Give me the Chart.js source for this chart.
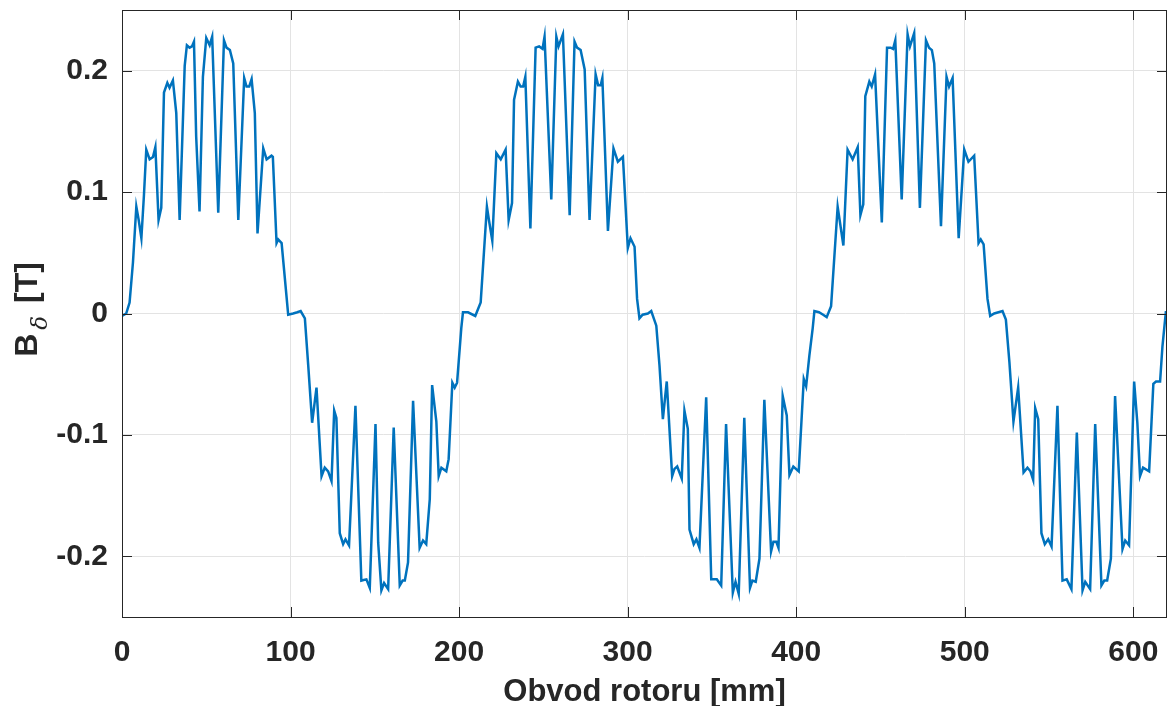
<!DOCTYPE html>
<html>
<head>
<meta charset="utf-8">
<title>Obvod rotoru</title>
<script src="https://cdn.jsdelivr.net/npm/chart.js@4.4.1/dist/chart.umd.min.js"></script>
<style>
  html, body { margin: 0; padding: 0; background: #fff; }
  #wrap { width: 1168px; height: 706px; }
</style>
</head>
<body>
<div id="wrap"><canvas id="fluxChart" width="1168" height="706"></canvas></div>
<script>
// rotor circumference [mm]
const position = [
  0, 2.5, 4.5, 6.5, 8.5, 9.9, 11.5, 13, 14.4, 16.4, 18.4, 19.8, 21.7, 23.3, 24.9, 26.9, 28.2, 30.2, 32.2, 34.2,
  37.2, 38.5, 40.1, 41.5, 42.7, 44, 46, 48, 50, 52, 53.5, 57.1, 60.5, 62, 64, 66, 69, 72.5, 73.9, 75.5,
  76.9, 78.8, 80.4, 83.8, 85.8, 88.7, 89.5, 91.7, 92.7, 94.7, 98.6, 101.5, 104, 106, 108.5, 110.5, 112.8, 115.4, 118.4, 120.3,
  122.3, 124.3, 125.9, 127.2, 129.2, 131.2, 132.6, 134.7, 138.5, 142, 145, 147, 150.4, 152, 153.9, 155.5, 157.9, 161.2, 164.8, 166.5,
  167.8, 169.7, 172.7, 176.6, 178.6, 180.5, 182.6, 184, 186.5, 187.9, 189.5, 192.4, 193.8, 196, 197.4, 198.8, 201.3, 202.3, 205.3, 209.6,
  212.8, 216.5, 217.7, 219.7, 222.1, 224.7, 227.6, 229.4, 231.4, 232.6, 234.9, 236.5, 238, 239.3, 242.3, 245.4, 247.5, 249.5, 250.7, 254.7,
  257.7, 259, 261.6, 265.6, 268.5, 270, 272.1, 274.5, 277.4, 281, 282.5, 284, 285, 288.3, 291.6, 294.2, 297.2, 300.1, 301.7, 304.1,
  305.6, 307, 308.9, 312, 314, 317, 318.9, 320.9, 323.2, 326.4, 327.8, 329.4, 332.1, 333.7, 335.7, 336.7, 339.2, 340.8, 342.6, 346.6,
  349.6, 352.9, 355.5, 358.4, 362.4, 364, 365.9, 369.2, 372.6, 374, 376, 378.2, 381.1, 385.1, 386.5, 388.2, 389.5, 392, 394.4, 396,
  398.3, 401.5, 404.5, 405.9, 407.8, 409.8, 410.8, 413.5, 416, 418.1, 420.7, 424.6, 428, 430.5, 433.5, 436.5, 438.1, 439.8, 441, 443.4,
  444.8, 446.8, 450.8, 453.9, 456, 457.5, 458.8, 462.6, 466.1, 467.5, 470, 473.4, 477, 478.8, 480.5, 481.9, 485.9, 489.2, 490.7, 492.8,
  496.4, 499.7, 502.2, 505.6, 508.2, 509.5, 511.2, 513.5, 515.1, 517.5, 520, 522.4, 524.4, 526.5, 528.9, 531.7, 534.9, 537.2, 539, 540.6,
  541.8, 543.6, 545.5, 547.5, 549.5, 551.5, 555, 558, 560.5, 563.3, 566.5, 569.9, 571.5, 574.4, 577.4, 581.1, 582.8, 584.5, 586.7, 589.2,
  593.6, 595.2, 597.5, 600.5, 602.4, 604, 605.8, 609.4, 611.9, 613.5, 615.9, 617.3, 619.3, 620
];

// air-gap flux density B_delta [T]
const fluxDensity = [
  -0.002, 0, 0.009, 0.042, 0.088, 0.077, 0.062, 0.097, 0.135, 0.127, 0.129, 0.137, 0.077, 0.087, 0.182, 0.19, 0.186, 0.192, 0.165, 0.077,
  0.204, 0.221, 0.219, 0.22, 0.224, 0.146, 0.084, 0.195, 0.227, 0.221, 0.228, 0.083, 0.225, 0.219, 0.217, 0.206, 0.077, 0.194, 0.187, 0.187,
  0.193, 0.165, 0.066, 0.136, 0.127, 0.13, 0.129, 0.058, 0.061, 0.058, -0.001, 0, 0.001, 0.002, -0.004, -0.043, -0.09, -0.061, -0.134, -0.127,
  -0.13, -0.138, -0.08, -0.086, -0.181, -0.19, -0.186, -0.191, -0.076, -0.22, -0.219, -0.226, -0.091, -0.189, -0.228, -0.222, -0.227, -0.094, -0.224, -0.22,
  -0.22, -0.205, -0.072, -0.193, -0.187, -0.19, -0.153, -0.059, -0.089, -0.134, -0.127, -0.13, -0.12, -0.057, -0.061, -0.057, -0.012, 0.001, 0.001, -0.002,
  0.009, 0.088, 0.077, 0.06, 0.132, 0.127, 0.135, 0.077, 0.091, 0.176, 0.191, 0.187, 0.187, 0.195, 0.07, 0.219, 0.22, 0.218, 0.228, 0.094,
  0.228, 0.22, 0.23, 0.081, 0.224, 0.219, 0.217, 0.201, 0.077, 0.197, 0.188, 0.188, 0.194, 0.068, 0.136, 0.125, 0.129, 0.054, 0.062, 0.055,
  0.012, -0.004, -0.001, 0, 0.002, -0.01, -0.043, -0.087, -0.056, -0.134, -0.128, -0.126, -0.136, -0.08, -0.095, -0.178, -0.19, -0.186, -0.193, -0.069,
  -0.219, -0.219, -0.224, -0.091, -0.23, -0.221, -0.231, -0.086, -0.226, -0.22, -0.221, -0.202, -0.071, -0.196, -0.188, -0.188, -0.193, -0.068, -0.084, -0.133,
  -0.126, -0.13, -0.054, -0.06, -0.035, -0.012, 0.002, 0.001, -0.001, -0.003, 0.006, 0.088, 0.056, 0.135, 0.127, 0.137, 0.081, 0.09, 0.179, 0.191,
  0.187, 0.197, 0.075, 0.219, 0.219, 0.218, 0.225, 0.094, 0.23, 0.22, 0.231, 0.087, 0.225, 0.219, 0.217, 0.206, 0.072, 0.195, 0.187, 0.194,
  0.062, 0.135, 0.125, 0.13, 0.058, 0.061, 0.057, 0.012, -0.002, 0, 0.001, 0.002, -0.005, -0.04, -0.089, -0.061, -0.131, -0.127, -0.13, -0.137,
  -0.078, -0.087, -0.181, -0.19, -0.186, -0.192, -0.076, -0.22, -0.219, -0.227, -0.098, -0.228, -0.221, -0.227, -0.091, -0.224, -0.22, -0.22, -0.202, -0.068,
  -0.194, -0.187, -0.191, -0.056, -0.09, -0.134, -0.127, -0.13, -0.058, -0.056, -0.056, -0.027, 0.001, 0.001
];

const xTicks = [0, 100, 200, 300, 400, 500, 600];
const yTicks = [-0.2, -0.1, 0, 0.1, 0.2];
const xLabel = 'Obvod rotoru [mm]';

const axisColor = '#262626';
const fontFamily = 'Liberation Sans, Arial, sans-serif';
const tickFont = { family: fontFamily, size: 30, weight: 'bold' };

// box round the plot, inward ticks, and the y title with a subscript
const matlabAxes = {
  id: 'matlabAxes',
  afterDraw(chart) {
    const { ctx, chartArea: a, scales } = chart;
    const len = 10;
    ctx.save();
    ctx.strokeStyle = axisColor;
    ctx.lineWidth = 1;
    ctx.beginPath();
    xTicks.forEach(v => {
      const px = Math.round(scales.x.getPixelForValue(v)) + 0.5;
      ctx.moveTo(px, a.bottom); ctx.lineTo(px, a.bottom - len);
      ctx.moveTo(px, a.top); ctx.lineTo(px, a.top + len);
    });
    yTicks.forEach(v => {
      const py = Math.round(scales.y.getPixelForValue(v)) + 0.5;
      ctx.moveTo(a.left, py); ctx.lineTo(a.left + len, py);
      ctx.moveTo(a.right, py); ctx.lineTo(a.right - len, py);
    });
    ctx.stroke();
    ctx.strokeRect(Math.round(a.left) + 0.5, Math.round(a.top) + 0.5,
                   Math.round(a.right - a.left) - 1, Math.round(a.bottom - a.top));

    // y title
    ctx.translate(37, (a.top + a.bottom) / 2 - 4);
    ctx.rotate(-Math.PI / 2);
    ctx.fillStyle = axisColor;
    ctx.textBaseline = 'alphabetic';
    ctx.textAlign = 'left';
    const big = 'bold 32px ' + fontFamily;
    const small = 'italic 23px DejaVu Serif, serif';
    ctx.font = big;
    const wB = ctx.measureText('B').width;
    ctx.font = small;
    const wD = ctx.measureText('\u03B4').width;
    ctx.font = big;
    const wT = ctx.measureText(' [T]').width;
    const gap = 4;
    const x0 = -(wB + wD + wT + 2 * gap) / 2;
    ctx.fillText('B', x0, 0);
    ctx.font = small;
    ctx.fillText('\u03B4', x0 + wB + gap, 10);
    ctx.font = big;
    ctx.fillText(' [T]', x0 + wB + wD + 2 * gap, 0);
    ctx.restore();
  }
};

const ctx = document.getElementById('fluxChart').getContext('2d');
const fluxChart = new Chart(ctx, {
  type: 'line',
  data: {
    datasets: [{
      data: position.map((p, i) => ({ x: p, y: fluxDensity[i] })),
      borderColor: '#0072BD',
      borderWidth: 2.5,
      pointRadius: 0,
      tension: 0,
      fill: false
    }]
  },
  options: {
    responsive: false,
    animation: false,
    events: [],
    layout: { padding: { left: 0, top: 10, right: 1, bottom: 0 } },
    plugins: { legend: { display: false }, tooltip: { enabled: false } },
    scales: {
      x: {
        type: 'linear',
        min: 0,
        max: 620,
        afterBuildTicks: s => { s.ticks = xTicks.map(v => ({ value: v })); },
        afterFit: s => { s.height = 89; s.paddingLeft = 0; s.paddingRight = 0; },
        grid: { color: '#e3e3e3', lineWidth: 1, drawTicks: false },
        border: { display: false },
        ticks: { font: tickFont, color: axisColor, padding: 18, maxRotation: 0, autoSkip: false },
        title: {
          display: true,
          text: xLabel,
          font: { family: fontFamily, size: 31, weight: 'bold' },
          color: axisColor,
          padding: { top: 0, bottom: -5 }
        }
      },
      y: {
        type: 'linear',
        min: -0.25,
        max: 0.25,
        afterBuildTicks: s => { s.ticks = yTicks.map(v => ({ value: v })); },
        afterFit: s => { s.width = 122; s.paddingTop = 0; s.paddingBottom = 0; },
        grid: { color: '#e3e3e3', lineWidth: 1, drawTicks: false },
        border: { display: false },
        ticks: {
          font: tickFont,
          color: axisColor,
          padding: 14,
          callback: v => (Math.abs(v) < 1e-9 ? '0' : String(Math.round(v * 10) / 10))
        }
      }
    }
  },
  plugins: [matlabAxes]
});
</script>
</body>
</html>
